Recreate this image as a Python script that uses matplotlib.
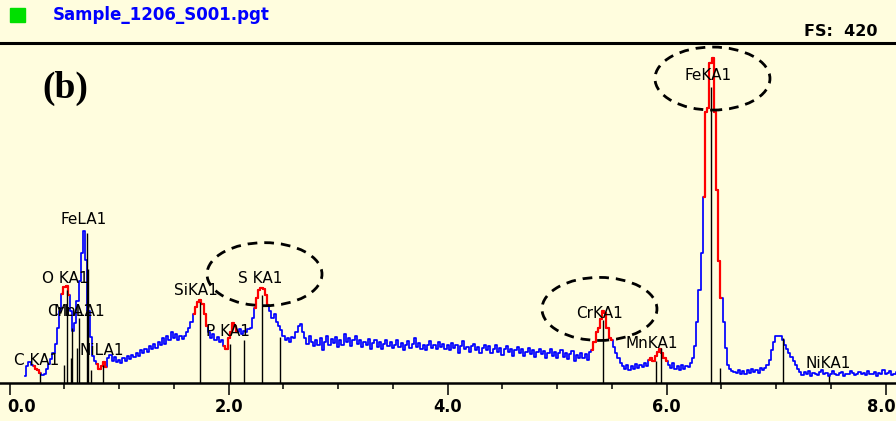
import numpy as np
import matplotlib
matplotlib.use("Agg")
import matplotlib.pyplot as plt
from matplotlib.patches import Ellipse, Rectangle
from matplotlib.transforms import ScaledTranslation

# ---------------- data ----------------
step_kev = 0.02  # channel width of the resampled spectrum

seg_a_start = 0.14
seg_a = [8, 20, 25, 22, 21, 17, 15, 12, 9, 10,
         17, 23, 29, 36, 48, 68, 89, 110, 118, 120,
         108, 89, 64, 73, 101, 126, 160, 188, 151, 89,
         56, 33, 27, 23, 17, 21, 25, 19, 30, 34,
         27, 31, 25]
seg_b_start = 1.00
seg_b = [28, 24, 30, 27, 33, 29, 34, 31, 37, 33,
         40, 36, 42, 38, 45, 41, 48, 43, 50, 46,
         55, 48, 57, 52, 62, 55, 60, 52, 58, 54,
         58, 62, 68, 75, 85, 93, 100, 102, 97, 85,
         70, 62, 55, 60, 52, 56, 50, 52, 45, 42]
seg_c_start = 2.00
seg_c = [55, 62, 73, 70, 62, 66, 60, 64, 62, 66,
         68, 80, 92, 105, 114, 117, 116, 108, 96, 88,
         80, 85, 75, 70, 65, 58, 52, 55, 50, 56,
         55, 62, 70, 72, 63, 55, 48, 57, 50, 45,
         53, 47, 55, 40, 50, 58, 46, 54, 49, 56]
seg_d_start = 3.00
seg_d = [44, 52, 47, 60, 50, 55, 45, 53, 58, 48,
         52, 44, 50, 46, 54, 42, 49, 52, 44, 50,
         41, 48, 53, 45, 50, 43, 47, 52, 44, 49,
         40, 47, 51, 43, 48, 55, 44, 49, 42, 47,
         40, 46, 51, 43, 47, 41, 50, 44, 48, 42]
seg_e_start = 4.00
seg_e = [46, 40, 49, 43, 47, 37, 45, 51, 41, 44,
         38, 45, 48, 40, 44, 36, 43, 47, 40, 45,
         36, 42, 47, 38, 43, 34, 41, 45, 38, 42,
         33, 40, 44, 36, 42, 33, 38, 43, 35, 40,
         31, 38, 42, 35, 39, 30, 37, 41, 33, 38]
seg_f_start = 5.00
seg_f = [30, 36, 40, 32, 37, 29, 35, 39, 27, 34,
         30, 36, 30, 35, 28, 38, 40, 50, 62, 68,
         78, 88, 86, 68, 55, 52, 44, 36, 30, 24,
         20, 17, 22, 16, 20, 17, 23, 18, 22, 19,
         24, 21, 28, 30, 27, 33, 38, 42, 36, 30]
seg_g_start = 6.00
seg_g = [27, 22, 18, 24, 17, 20, 15, 22, 17, 21,
         19, 24, 30, 45, 75, 115, 160, 230, 335, 340,
         395, 401, 335, 238, 150, 105, 75, 43, 22, 17,
         14, 13, 12, 16, 11, 14, 10, 15, 12, 17,
         13, 16, 12, 18, 15, 18, 22, 28, 40, 50]
seg_h_start = 7.00
seg_h = [57, 58, 57, 52, 46, 42, 37, 32, 26, 22,
         17, 13, 9, 13, 10, 14, 8, 12, 11, 9,
         13, 15, 10, 12, 8, 11, 14, 10, 9, 12,
         13, 8, 11, 10, 14, 12, 9, 11, 13, 10,
         12, 9, 14, 11, 10, 13, 8, 12, 11, 15,
         10, 12, 14, 9, 11, 13]

# regions of interest (drawn red): (low keV, high keV)
roi_lo = [0.21, 0.47, 0.79, 1.67, 1.96, 2.23, 5.32, 5.83, 6.33]
roi_hi = [0.30, 0.55, 0.89, 1.80, 2.09, 2.37, 5.50, 6.00, 6.50]

# element marker lines: energy (keV) and marker height (counts)
line_kev = [0.277, 0.500, 0.525, 0.556, 0.573, 0.615, 0.637, 0.705, 0.718, 0.743, 0.851,
            1.740, 2.013, 2.139, 2.307, 2.464,
            5.415, 5.899, 5.947, 6.404, 6.490, 7.058, 7.478]
line_cnt = [12, 22, 114, 30, 68, 43, 80, 185, 140, 15, 22,
            99, 48, 52, 108, 56,
            77, 27, 43, 365, 18, 55, 8]

# element labels
label_text = ["C KA1", "O KA1", "FeLA1", "CrLA1", "MnLA1", "NiLA1", "SiKA1", "P KA1",
              "S KA1", "CrKA1", "MnKA1", "FeKA1", "NiKA1"]
label_kev = [0.249, 0.505, 0.675, 0.550, 0.633, 0.840, 1.700, 1.989,
             2.286, 5.390, 5.866, 6.377, 7.473]
label_cnt = [27, 129, 202, 88, 88, 40, 114, 63,
             129, 85, 48, 380, 23]

# highlight ellipses: centre (keV, counts)
ell_kev = [2.327, 5.386, 6.418]
ell_cnt = [134, 91, 376]

major_ticks = [0.0, 2.0, 4.0, 6.0, 8.0]
major_labels = ["0.0", "2.0", "4.0", "6.0", "8.0"]
minor_ticks = [0.5, 1.0, 1.5, 2.5, 3.0, 3.5, 4.5, 5.0, 5.5, 6.5, 7.0, 7.5]

file_name = "Sample_1206_S001.pgt"
full_scale = "FS:  420"
panel_tag = "(b)"

# ---------------- build spectrum ----------------
segs = [(seg_a_start, seg_a), (seg_b_start, seg_b), (seg_c_start, seg_c),
        (seg_d_start, seg_d), (seg_e_start, seg_e), (seg_f_start, seg_f),
        (seg_g_start, seg_g), (seg_h_start, seg_h)]
energy = np.concatenate([s + step_kev * np.arange(len(v)) for s, v in segs])
counts = np.concatenate([np.asarray(v, float) for s, v in segs])
order = np.argsort(energy)
energy, counts = energy[order], counts[order]

# ---------------- figure ----------------
W, H = 896, 421
bg = "#FFFDDE"
fig = plt.figure(figsize=(W / 100, H / 100), dpi=100)
fig.patch.set_facecolor(bg)

y_top, y_base = 43.0, 382.5
ax = fig.add_axes([0, (H - y_base) / H, 1, (y_base - y_top) / H])
ax.set_facecolor(bg)
px_per_kev = 109.5
x0_px = 9.7
ax.set_xlim(-x0_px / px_per_kev, (W - x0_px) / px_per_kev)
ax.set_ylim(0, 420)

for side in ("left", "right"):
    ax.spines[side].set_visible(False)
ax.spines["bottom"].set_linewidth(1.8)
ax.spines["top"].set_linewidth(2.2)
ax.spines["top"].set_color("black")
ax.spines["bottom"].set_color("black")

ax.yaxis.set_visible(False)
ax.set_xticks(major_ticks)
ax.set_xticklabels(major_labels)
ax.set_xticks(minor_ticks, minor=True)
ax.tick_params(axis="x", which="major", direction="out", length=8.5, width=1.1,
               pad=3, labelsize=13)
ax.tick_params(axis="x", which="minor", direction="out", length=4, width=1.1)
for lab in ax.get_xticklabels():
    lab.set_fontweight("bold")
    lab.set_fontstretch("condensed")
labs = ax.get_xticklabels()
labs[0].set_transform(labs[0].get_transform() + ScaledTranslation(12 / 100, 0, fig.dpi_scale_trans))
labs[-1].set_transform(labs[-1].get_transform() + ScaledTranslation(-4 / 100, 0, fig.dpi_scale_trans))

# spectrum
ax.step(energy, counts, where="mid", color="#0000FF", lw=1.25, zorder=2)
for lo, hi in zip(roi_lo, roi_hi):
    m = (energy >= lo) & (energy <= hi)
    ax.step(energy[m], counts[m], where="mid", color="#FF0000", lw=1.6, zorder=3)

# marker lines
ax.vlines(line_kev, 0, line_cnt, color="black", lw=1.0, zorder=4)

# labels
for t, e, c in zip(label_text, label_kev, label_cnt):
    ax.text(e, c, t, ha="center", va="center", fontsize=11, color="black", zorder=6)

# ellipses
for e, c in zip(ell_kev, ell_cnt):
    ax.add_patch(Ellipse((e, c), 1.05, 78, fill=False, ec="black", lw=2.0,
                         ls=(0, (3.5, 2.5)), zorder=7, clip_on=False))

# header
fig.patches.append(Rectangle((10 / W, 1 - 22 / H), 15 / W, 14 / H,
                             transform=fig.transFigure, color="#00E000"))
fig.text(53 / W, 1 - 15 / H, file_name, color="#0000FF", fontweight="bold",
         fontsize=12, ha="left", va="center")
fig.text(877 / W, 1 - 31 / H, full_scale, color="black", fontweight="bold",
         fontsize=11.5, ha="right", va="center")
fig.text(42 / W, 1 - 88 / H, panel_tag, family="Liberation Serif", fontweight="bold",
         fontsize=27, ha="left", va="center")

fig.savefig("out.png", dpi=100, facecolor=bg)
